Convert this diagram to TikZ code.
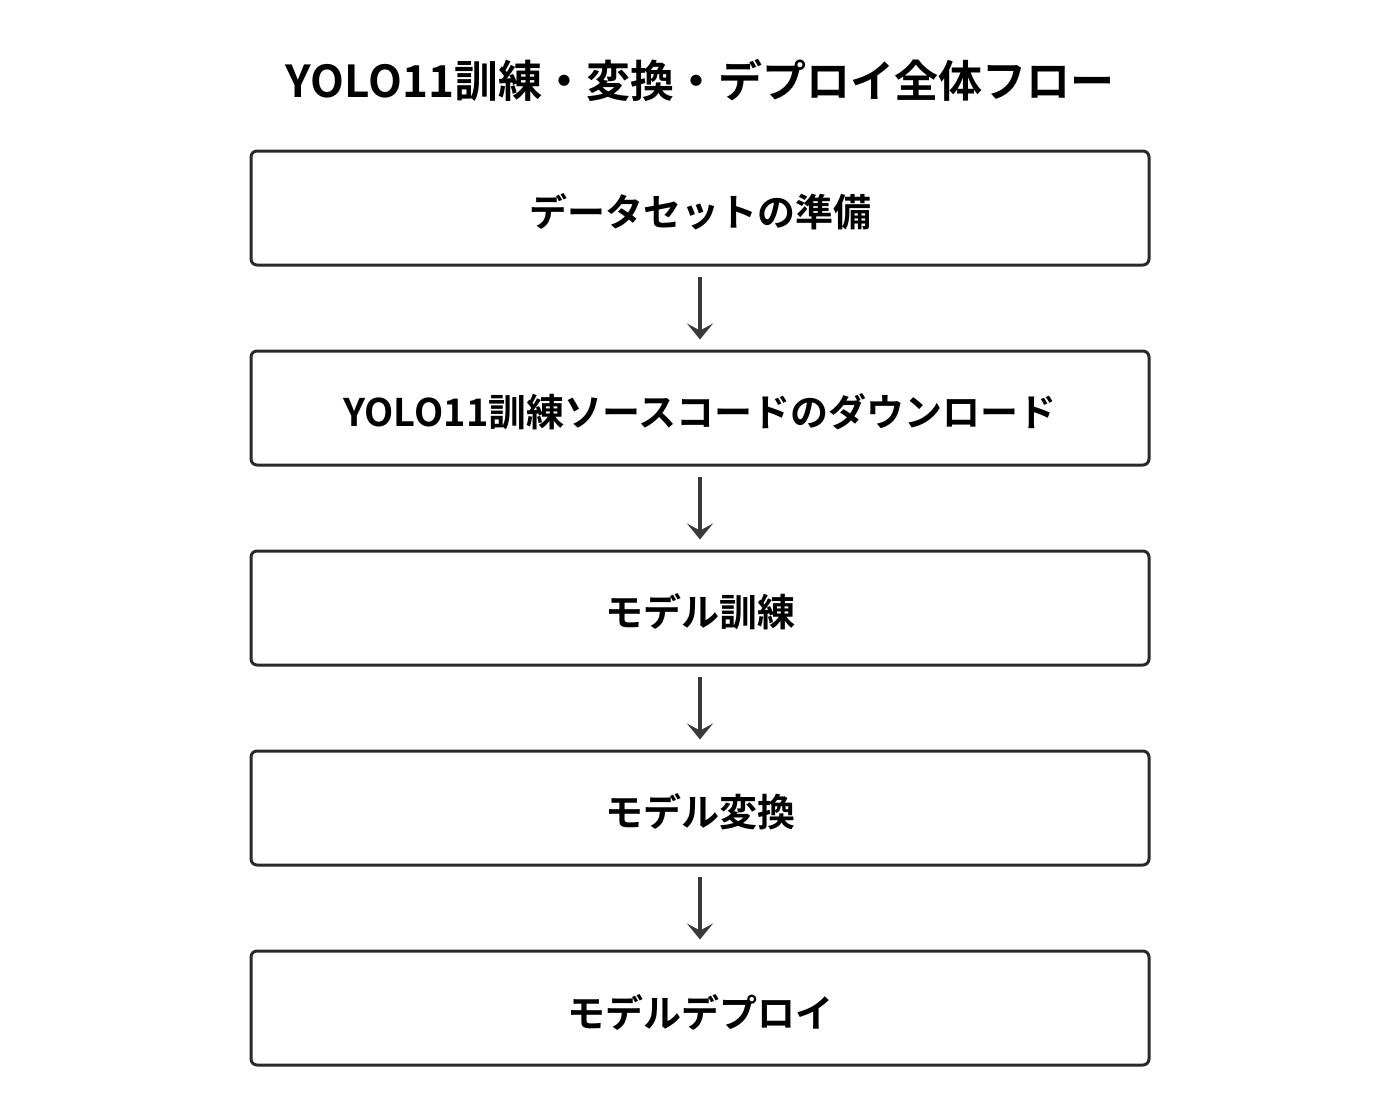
\documentclass[tikz,border=0pt]{standalone}
\usepackage{fontspec}
\setmainfont{Noto Sans CJK JP}[BoldFont={* Bold}]
\usetikzlibrary{arrows.meta}
\definecolor{boxline}{HTML}{2A2A2A}
\definecolor{arrowc}{HTML}{3A3A3A}
\tikzset{
  stepbox/.style={draw=boxline,line width=3pt,rounded corners=6pt,fill=white,
    minimum width=898pt,minimum height=114pt,inner sep=0pt},
  steptext/.style={font=\fontsize{38}{44}\selectfont\bfseries,text=black,inner sep=0pt},
  flowarrow/.style={draw=arrowc,line width=4pt,-{Stealth[length=16pt,width=26pt,inset=7pt,fill=arrowc]}}
}
\begin{document}
\begin{tikzpicture}[x=1pt,y=1pt]
\useasboundingbox (0,0) rectangle (1400,-1100);
\node[font=\fontsize{44}{50}\selectfont\bfseries,text=black] (title) at (700,-80) {YOLO11訓練・変換・デプロイ全体フロー};
\node[stepbox] (s1) at (700,-208) {};
\node[stepbox] (s2) at (700,-408) {};
\node[stepbox] (s3) at (700,-608) {};
\node[stepbox] (s4) at (700,-808) {};
\node[stepbox] (s5) at (700,-1008) {};
\node[steptext] (t1) at ([yshift=-4pt]s1.center) {データセットの準備};
\node[steptext] (t2) at ([yshift=-4pt]s2.center) {YOLO11訓練ソースコードのダウンロード};
\node[steptext] (t3) at ([yshift=-4pt]s3.center) {モデル訓練};
\node[steptext] (t4) at ([yshift=-4pt]s4.center) {モデル変換};
\node[steptext] (t5) at ([yshift=-4pt]s5.center) {モデルデプロイ};
\draw[flowarrow] ([yshift=-10pt]s1.south) -- ([yshift=10pt]s2.north);
\draw[flowarrow] ([yshift=-10pt]s2.south) -- ([yshift=10pt]s3.north);
\draw[flowarrow] ([yshift=-10pt]s3.south) -- ([yshift=10pt]s4.north);
\draw[flowarrow] ([yshift=-10pt]s4.south) -- ([yshift=10pt]s5.north);
\end{tikzpicture}
\end{document}
